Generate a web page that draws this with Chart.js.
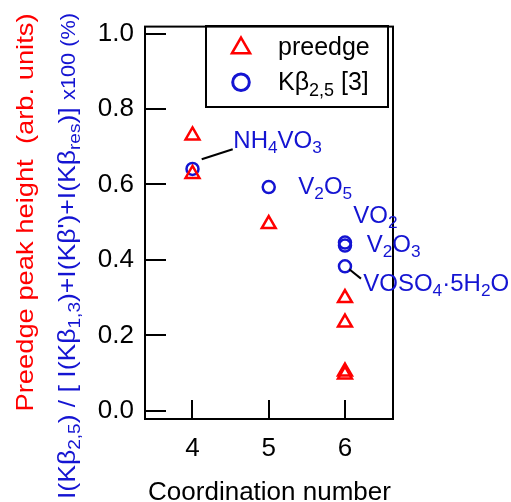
<!DOCTYPE html>
<html lang="en">
<head>
<meta charset="UTF-8">
<title>Preedge peak height vs coordination number</title>
<script src="https://cdn.jsdelivr.net/npm/chart.js"></script>
<style>
    body { margin: 0; padding: 0; background: #fff; }
    #wrap { width: 511px; height: 502px; }
</style>
</head>
<body>
<div id="wrap"><canvas id="chart" width="511" height="502"></canvas></div>
<script>
// data
var xTicks = [4, 5, 6];
var yTicks = [0, 0.2, 0.4, 0.6, 0.8, 1.0];
var preedgeX = [4, 4, 5, 6, 6, 6, 6];
var preedgeY = [0.730, 0.628, 0.495, 0.299, 0.234, 0.104, 0.096];
var kbetaX = [4, 5, 6, 6, 6];
var kbetaY = [0.641, 0.593, 0.446, 0.438, 0.383];
// compound names, one per kbeta point (_{..} = subscript)
var compounds = ['NH_{4}VO_{3}', 'V_{2}O_{5}', 'VO_{2}', 'V_{2}O_{3}', 'VOSO_{4}\u00b75H_{2}O'];
var legendLabels = ['preedge', 'K\u03b2_{2,5} [3]'];
var xTitle = 'Coordination number';
var yTitleRed = 'Preedge peak height  (arb. units)';
var yTitleBlue = 'I(K\u03b2_{2,5}) / [ I(K\u03b2_{1,3})+I(K\u03b2\')+I(K\u03b2_{res})] ~{x100 (%)}';

var RED = '#ff0000';
var BLUE = '#1414d2';
var FONT = '"Liberation Sans", Arial, sans-serif';

// label placement relative to its point (pixels)
var labelOffsets = [[40.8, -21.4], [29.6, 6.8], [8.3, -19.6], [21.7, 6.4], [18.3, 24.6]];
var leaderLines = { 0: [9.2, -9.7, 40.2, -19.7], 4: [4.3, 3, 16, 12.3] };

function parseRich(str) {
    var segs = [];
    var re = /([_~])\{([^}]*)\}|([^_~]+)/g;
    var m;
    while ((m = re.exec(str))) {
        if (m[3]) segs.push({ t: m[3], k: 'n' });
        else segs.push({ t: m[2], k: m[1] === '_' ? 's' : 'm' });
    }
    return segs;
}

function segFont(k, size) {
    var fs = k === 'n' ? size : (k === 's' ? size * 0.72 : size * 0.82);
    return fs + 'px ' + FONT;
}

function richWidth(ctx, str, size) {
    var w = 0;
    parseRich(str).forEach(function (s) {
        ctx.font = segFont(s.k, size);
        w += ctx.measureText(s.t).width;
    });
    return w;
}

function drawRich(ctx, str, x, y, size, color) {
    ctx.fillStyle = color;
    ctx.textAlign = 'left';
    ctx.textBaseline = 'alphabetic';
    var cx = x;
    parseRich(str).forEach(function (s) {
        ctx.font = segFont(s.k, size);
        ctx.fillText(s.t, cx, y + (s.k === 's' ? size * 0.22 : 0));
        cx += ctx.measureText(s.t).width;
    });
}

// rotated title, stretched along its length to fit
function drawVertical(ctx, str, baseX, centerY, length, size, color) {
    var w = richWidth(ctx, str, size);
    ctx.save();
    ctx.translate(baseX, centerY);
    ctx.rotate(-Math.PI / 2);
    ctx.scale(length / w, 1);
    drawRich(ctx, str, -w / 2, 0, size, color);
    ctx.restore();
}

function triangle(ctx, x, y, r) {
    ctx.beginPath();
    for (var i = 0; i < 3; i++) {
        var a = i * 2 * Math.PI / 3;
        var px = x + Math.sin(a) * r, py = y - Math.cos(a) * r;
        if (i === 0) ctx.moveTo(px, py); else ctx.lineTo(px, py);
    }
    ctx.closePath();
    ctx.stroke();
}

var decorPlugin = {
    id: 'decor',
    afterDraw: function (chart) {
        var ctx = chart.ctx;
        var a = chart.chartArea;
        var xs = chart.scales.x, ys = chart.scales.y;
        ctx.save();
        ctx.strokeStyle = '#000';
        ctx.lineWidth = 2;
        ctx.strokeRect(a.left, a.top, a.right - a.left, a.bottom - a.top);
        // inside ticks
        ctx.beginPath();
        yTicks.forEach(function (v) {
            var py = Math.round(ys.getPixelForValue(v));
            ctx.moveTo(a.left, py); ctx.lineTo(a.left + 21, py);
        });
        xTicks.forEach(function (v) {
            var px = Math.round(xs.getPixelForValue(v));
            ctx.moveTo(px, a.bottom); ctx.lineTo(px, a.bottom - 19);
        });
        ctx.stroke();

        // compound labels
        compounds.forEach(function (name, i) {
            var px = xs.getPixelForValue(kbetaX[i]);
            var py = ys.getPixelForValue(kbetaY[i]);
            var l = leaderLines[i];
            if (l) {
                ctx.strokeStyle = '#000';
                ctx.lineWidth = 2;
                ctx.beginPath();
                ctx.moveTo(px + l[0], py + l[1]);
                ctx.lineTo(px + l[2], py + l[3]);
                ctx.stroke();
            }
            drawRich(ctx, name, px + labelOffsets[i][0], py + labelOffsets[i][1], 24, BLUE);
        });

        // legend
        ctx.strokeStyle = '#000';
        ctx.lineWidth = 2;
        ctx.strokeRect(206, 26, 182, 81);
        ctx.strokeStyle = RED;
        ctx.lineWidth = 2.5;
        triangle(ctx, 241, 48, 10.5);
        ctx.strokeStyle = BLUE;
        ctx.lineWidth = 3;
        ctx.beginPath();
        ctx.arc(241, 82.3, 8.3, 0, 2 * Math.PI);
        ctx.stroke();
        drawRich(ctx, legendLabels[0], 278, 54.5, 25, '#000');
        drawRich(ctx, legendLabels[1], 278, 90, 25, '#000');

        // axis titles
        ctx.font = '26px ' + FONT;
        ctx.fillStyle = '#000';
        ctx.textAlign = 'center';
        ctx.textBaseline = 'alphabetic';
        ctx.fillText(xTitle, (147 + 392) / 2, 500);
        drawVertical(ctx, yTitleRed, 32.5, 212.5, 398, 24, RED);
        drawVertical(ctx, yTitleBlue, 75, 256, 486, 24, BLUE);
        ctx.restore();
    }
};

var tickFont = { family: FONT, size: 26 };

new Chart(document.getElementById('chart'), {
    type: 'scatter',
    data: {
        datasets: [{
            label: 'preedge',
            data: preedgeX.map(function (x, i) { return { x: x, y: preedgeY[i] }; }),
            pointStyle: 'triangle',
            pointRadius: 8,
            borderColor: RED,
            borderWidth: 2.5,
            backgroundColor: 'rgba(0,0,0,0)'
        }, {
            label: 'Kbeta',
            data: kbetaX.map(function (x, i) { return { x: x, y: kbetaY[i] }; }),
            pointStyle: 'circle',
            pointRadius: 6,
            borderColor: BLUE,
            borderWidth: 2.5,
            backgroundColor: 'rgba(0,0,0,0)'
        }]
    },
    options: {
        responsive: false,
        animation: false,
        layout: { padding: { top: 20, right: 118, left: 0, bottom: 0 } },
        plugins: { legend: { display: false }, tooltip: { enabled: false } },
        scales: {
            x: {
                type: 'linear',
                min: 3.377,
                max: 6.63,
                afterBuildTicks: function (s) { s.ticks = xTicks.map(function (v) { return { value: v }; }); },
                afterFit: function (s) { s.height = 83; },
                grid: { display: false, drawTicks: false },
                border: { display: false },
                ticks: { font: tickFont, color: '#000', padding: 14, maxRotation: 0 }
            },
            y: {
                min: -0.0216,
                max: 1.0183,
                afterBuildTicks: function (s) { s.ticks = yTicks.map(function (v) { return { value: v }; }); },
                afterFit: function (s) { s.width = 145; },
                grid: { display: false, drawTicks: false },
                border: { display: false },
                ticks: { font: tickFont, color: '#000', padding: 11,
                    callback: function (v) { return v.toFixed(1); } }
            }
        }
    },
    plugins: [decorPlugin]
});
</script>
</body>
</html>
